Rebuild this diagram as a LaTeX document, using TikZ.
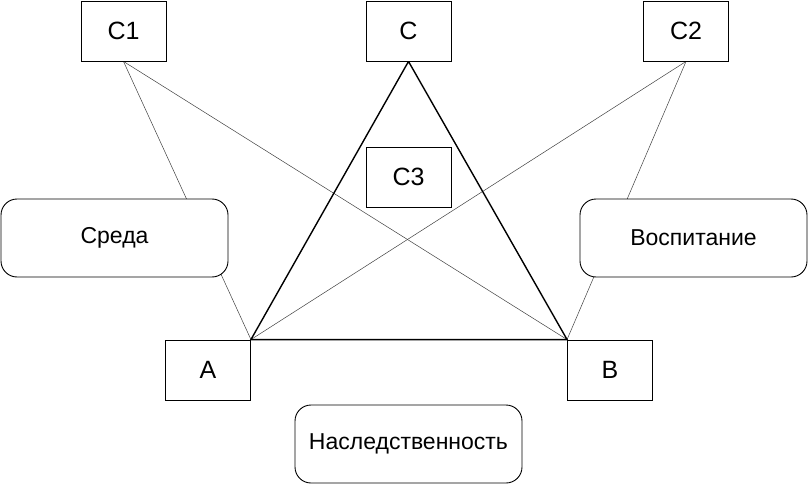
\documentclass[tikz,border=0pt]{standalone}
\usepackage{fontspec}
\setmainfont{Liberation Sans}
\usetikzlibrary{backgrounds}
\begin{document}
\begin{tikzpicture}[x=1pt,y=-1pt,
  sq/.style={draw, fill=white, line width=0.9pt, inner sep=0pt, minimum width=85pt, minimum height=60pt, font=\fontsize{25}{28}\selectfont},
  rbox/.style={draw, fill=white, line width=0.9pt, rounded corners=16pt, inner sep=0pt, minimum width=227pt, minimum height=78pt, font=\fontsize{23}{26}\selectfont},
  thin/.style={line width=0.5pt, draw=black!75},
  thick/.style={line width=1.4pt}]
\useasboundingbox (0,0) rectangle (808,484);
\node[sq] (c1) at (123.5,31) {C1};
\node[sq] (c) at (408.5,31) {C};
\node[sq] (c2) at (686,31) {C2};
\node[sq] (c3) at (408.5,177) {C3};
\node[sq] (a) at (208,370) {A};
\node[sq] (b) at (610,370) {B};
\node[rbox] (sreda) at (114.5,238) {Среда};
\node[rbox] (vosp) at (693.5,238) {Воспитание};
\node[rbox] (nasl) at (408.5,444) {Наследственность};
\begin{pgfonlayer}{background}
\draw[thin] (c1.south) -- (a.north east);
\draw[thin] (c1.south) -- (b.north west);
\draw[thin] (c2.south) -- (a.north east);
\draw[thin] (c2.south) -- (b.north west);
\draw[thick, line join=miter] (c.south) -- (a.north east) -- (b.north west) -- cycle;
\end{pgfonlayer}
\end{tikzpicture}
\end{document}
